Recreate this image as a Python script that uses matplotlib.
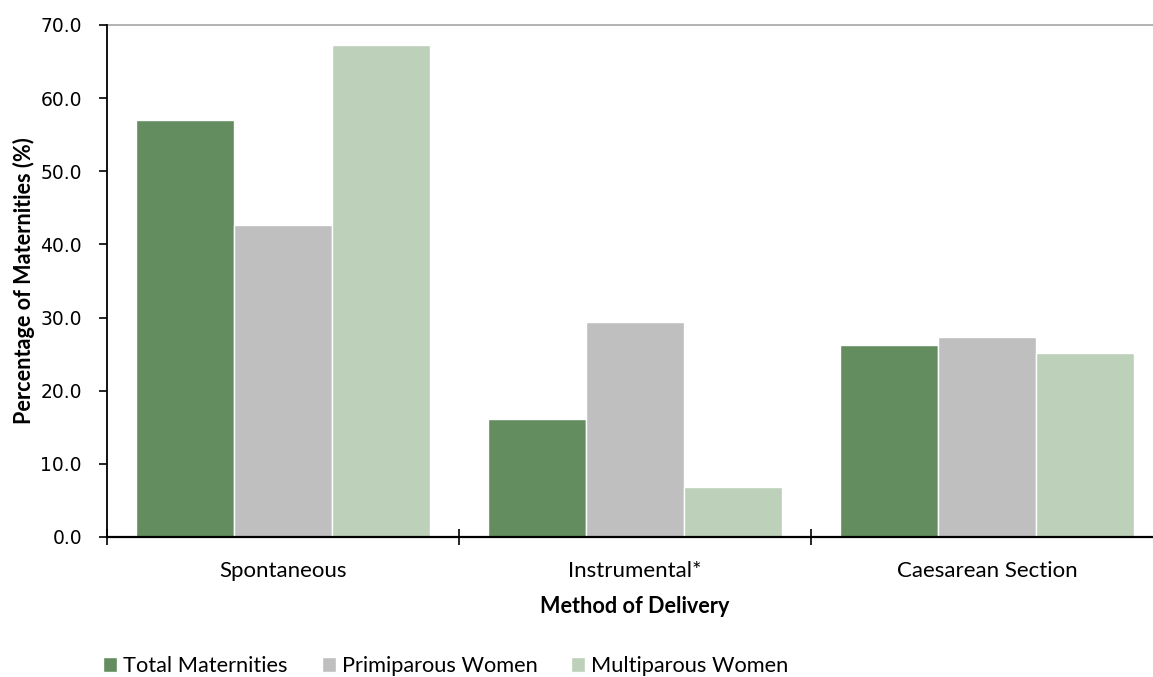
import matplotlib
matplotlib.use("Agg")
import matplotlib.pyplot as plt
import numpy as np

categories = ["Spontaneous", "Instrumental*", "Caesarean Section"]
series_names = ["Total Maternities", "Primiparous Women", "Multiparous Women"]
total = [57.0, 16.2, 26.2]
primiparous = [42.6, 29.4, 27.3]
multiparous = [67.3, 6.9, 25.2]
yticks = [0, 10, 20, 30, 40, 50, 60, 70]
colors = ["#638C5F", "#BFBFBF", "#BDD0B9"]

font = "Lato"

fig = plt.figure(figsize=(11.53, 6.77), dpi=100)
W, H = 1153, 677
left, right, top, bottom = 107, 1163, 25, 537
ax = fig.add_axes([left / W, (H - bottom) / H, (right - left) / W, (bottom - top) / H])

x = np.arange(len(categories))
bw = 0.278
for i, (vals, name) in enumerate(zip([total, primiparous, multiparous], series_names)):
    ax.bar(x + (i - 1) * bw, vals, width=bw, color=colors[i], edgecolor="white",
           linewidth=1.0, label=name, zorder=2)

ax.set_xlim(-0.5, 2.5)
ax.set_ylim(0, 70)
ax.axhline(70, color="#A6A6A6", linewidth=1.2, zorder=1, clip_on=False)

for s in ["top", "right"]:
    ax.spines[s].set_visible(False)
ax.spines["left"].set_linewidth(1.3)
ax.spines["bottom"].set_linewidth(1.6)

ax.set_yticks(yticks)
ax.set_yticklabels([f"{v:.1f}" for v in yticks], fontsize=13.5, family="DejaVu Sans")
ax.tick_params(axis="y", direction="out", length=6, width=1.2, pad=12)

ax.set_xticks([-0.5, 0.5, 1.5, 2.5])
ax.set_xticklabels([])
ax.tick_params(axis="x", which="major", direction="inout", length=12, width=1.2)
ax.set_xticks(x, minor=True)
ax.set_xticklabels(categories, minor=True, fontsize=16, family=font)
ax.tick_params(axis="x", which="minor", length=0, pad=17)

ax.set_ylabel("Percentage of Maternities (%)", fontsize=15.6, fontweight="bold",
              family=font, labelpad=4)
ax.set_xlabel("Method of Delivery", fontsize=15.6, fontweight="bold", family=font, labelpad=11)

handles, labels = ax.get_legend_handles_labels()
fig.legend(handles, labels, loc="center left", bbox_to_anchor=(103 / W, 11 / H), ncol=3,
           frameon=False, prop={"family": font, "size": 15.7}, handlelength=0.64,
           handleheight=0.64, handletextpad=0.28, columnspacing=1.56,
           borderaxespad=0, borderpad=0)

fig.savefig("out.png", dpi=100)
